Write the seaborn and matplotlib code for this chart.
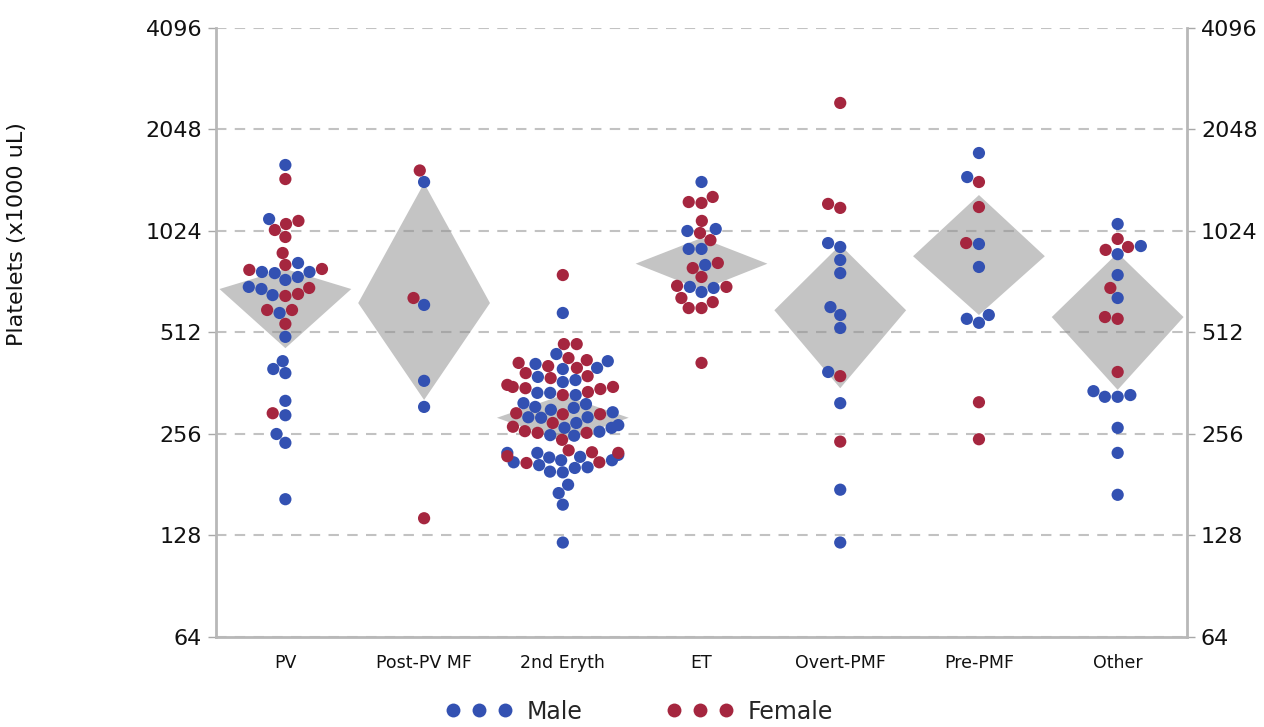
import matplotlib
matplotlib.use("Agg")
import matplotlib.pyplot as plt
from matplotlib.lines import Line2D
from matplotlib.ticker import NullLocator
import pandas as pd
import seaborn as sns

# platelet counts (x1000 uL), per diagnosis group
groups = ["PV", "Post-PV MF", "2nd Eryth", "ET", "Overt-PMF", "Pre-PMF", "Other"]

male = {
    "PV": [1607, 1111, 823, 774, 774, 768, 748, 733, 699, 689, 661, 585, 497,
           421, 399, 388, 321, 291, 256, 241, 164],
    "Post-PV MF": [1431, 618, 368, 308],
    "2nd Eryth": [585, 442, 421, 413, 402, 399, 378, 370, 365, 339, 339, 334,
                  316, 314, 308, 306, 302, 297, 287, 287, 286, 276, 272, 267,
                  267, 260, 254, 253, 225, 225, 222, 219, 218, 214, 214, 211,
                  207, 204, 203, 198, 197, 181, 171, 158, 122],
    "ET": [1431, 1038, 1024, 906, 906, 812, 699, 694, 675],
    "Overt-PMF": [943, 918, 840, 768, 609, 577, 528, 391, 316, 175, 122],
    "Pre-PMF": [1744, 1480, 937, 801, 577, 562, 547],
    "Other": [1074, 924, 874, 758, 648, 343, 334, 330, 330, 267, 225, 169],
}

female = {
    "PV": [1460, 1097, 1074, 1031, 983, 881, 812, 790, 785, 694, 666, 657,
           597, 597, 543, 295],
    "Post-PV MF": [1548, 648, 144],
    "2nd Eryth": [758, 473, 473, 430, 424, 416, 407, 402, 388, 380, 375, 358,
                  353, 353, 350, 348, 341, 334, 295, 293, 293, 276, 269, 261,
                  258, 258, 246, 229, 226, 225, 220, 211, 210],
    "ET": [1292, 1248, 1240, 1097, 1010, 962, 823, 795, 748, 704, 699, 648,
           630, 605, 605, 416],
    "Overt-PMF": [2455, 1232, 1199, 380, 243],
    "Pre-PMF": [1431, 1206, 943, 318, 247],
    "Other": [970, 918, 900, 694, 569, 562, 391],
}

# diamonds: lower limit, centre, upper limit
diamond_low = [460, 323, 243, 685, 350, 577, 346]
diamond_mid = [689, 626, 286, 819, 596, 862, 569]
diamond_high = [790, 1420, 334, 976, 931, 1309, 881]

y_ticks = [64, 128, 256, 512, 1024, 2048, 4096]

rows = []
for g in groups:
    rows += [(g, v, "Male") for v in male[g]]
    rows += [(g, v, "Female") for v in female[g]]
df = pd.DataFrame(rows, columns=["group", "platelets", "sex"])

colors = {"Male": "#3351b2", "Female": "#a5263f"}

sns.set_style("white")
plt.rcParams["font.family"] = ["DejaVu Sans"]

fig = plt.figure(figsize=(12.64, 7.27), dpi=100)
ax = fig.add_axes([0.1709, 0.1238, 0.7682, 0.8377])

half = 0.475
for i, (lo, mid, hi) in enumerate(zip(diamond_low, diamond_mid, diamond_high)):
    ax.fill([i - half, i, i + half, i], [mid, hi, mid, lo],
            color="#c4c4c4", lw=0, zorder=1)

sns.swarmplot(data=df, x="group", y="platelets", hue="sex", order=groups,
              hue_order=["Male", "Female"], palette=colors, size=8.8,
              linewidth=0, log_scale=2, legend=False, warn_thresh=1,
              zorder=3, ax=ax)

ax.set_ylim(64, 4096)
ax.set_xlim(-0.5, 6.5)
ax.set_yticks(y_ticks)
ax.set_yticklabels([str(t) for t in y_ticks])
ax.yaxis.set_minor_locator(NullLocator())

ax.set_axisbelow("line")
ax.yaxis.grid(True, color="#909090", alpha=0.55, lw=1.5, linestyle=(0, (5, 4)))
ax.xaxis.grid(False)

ax.tick_params(axis="y", left=True, right=True, labelleft=True, labelright=True,
               length=6, width=1, color="#a8a8a8", labelsize=16, pad=4,
               labelcolor="#111111")
ax.tick_params(axis="x", length=0, labelsize=12.5, pad=12, labelcolor="#111111")

ax.spines["top"].set_visible(False)
for s in ["left", "right", "bottom"]:
    ax.spines[s].set_color("#b8b8b8")
    ax.spines[s].set_linewidth(2)

ax.set_xlabel("")
ax.set_ylabel("Platelets (x1000 uL)", fontsize=16, color="#111111")
ax.yaxis.set_label_coords(-0.195, 0.662)

handles = [Line2D([], [], ls="none", marker="o", markersize=10,
                  markerfacecolor=colors[k], markeredgewidth=0)
           for k in ["Male", "Female"]]
fig.legend(handles, ["Male", "Female"], numpoints=3, loc="center",
           bbox_to_anchor=(0.506, 0.021), ncol=2, frameon=False, fontsize=17,
           handlelength=2.8, handletextpad=0.6, columnspacing=3.6)

fig.savefig("out.png", dpi=100)
